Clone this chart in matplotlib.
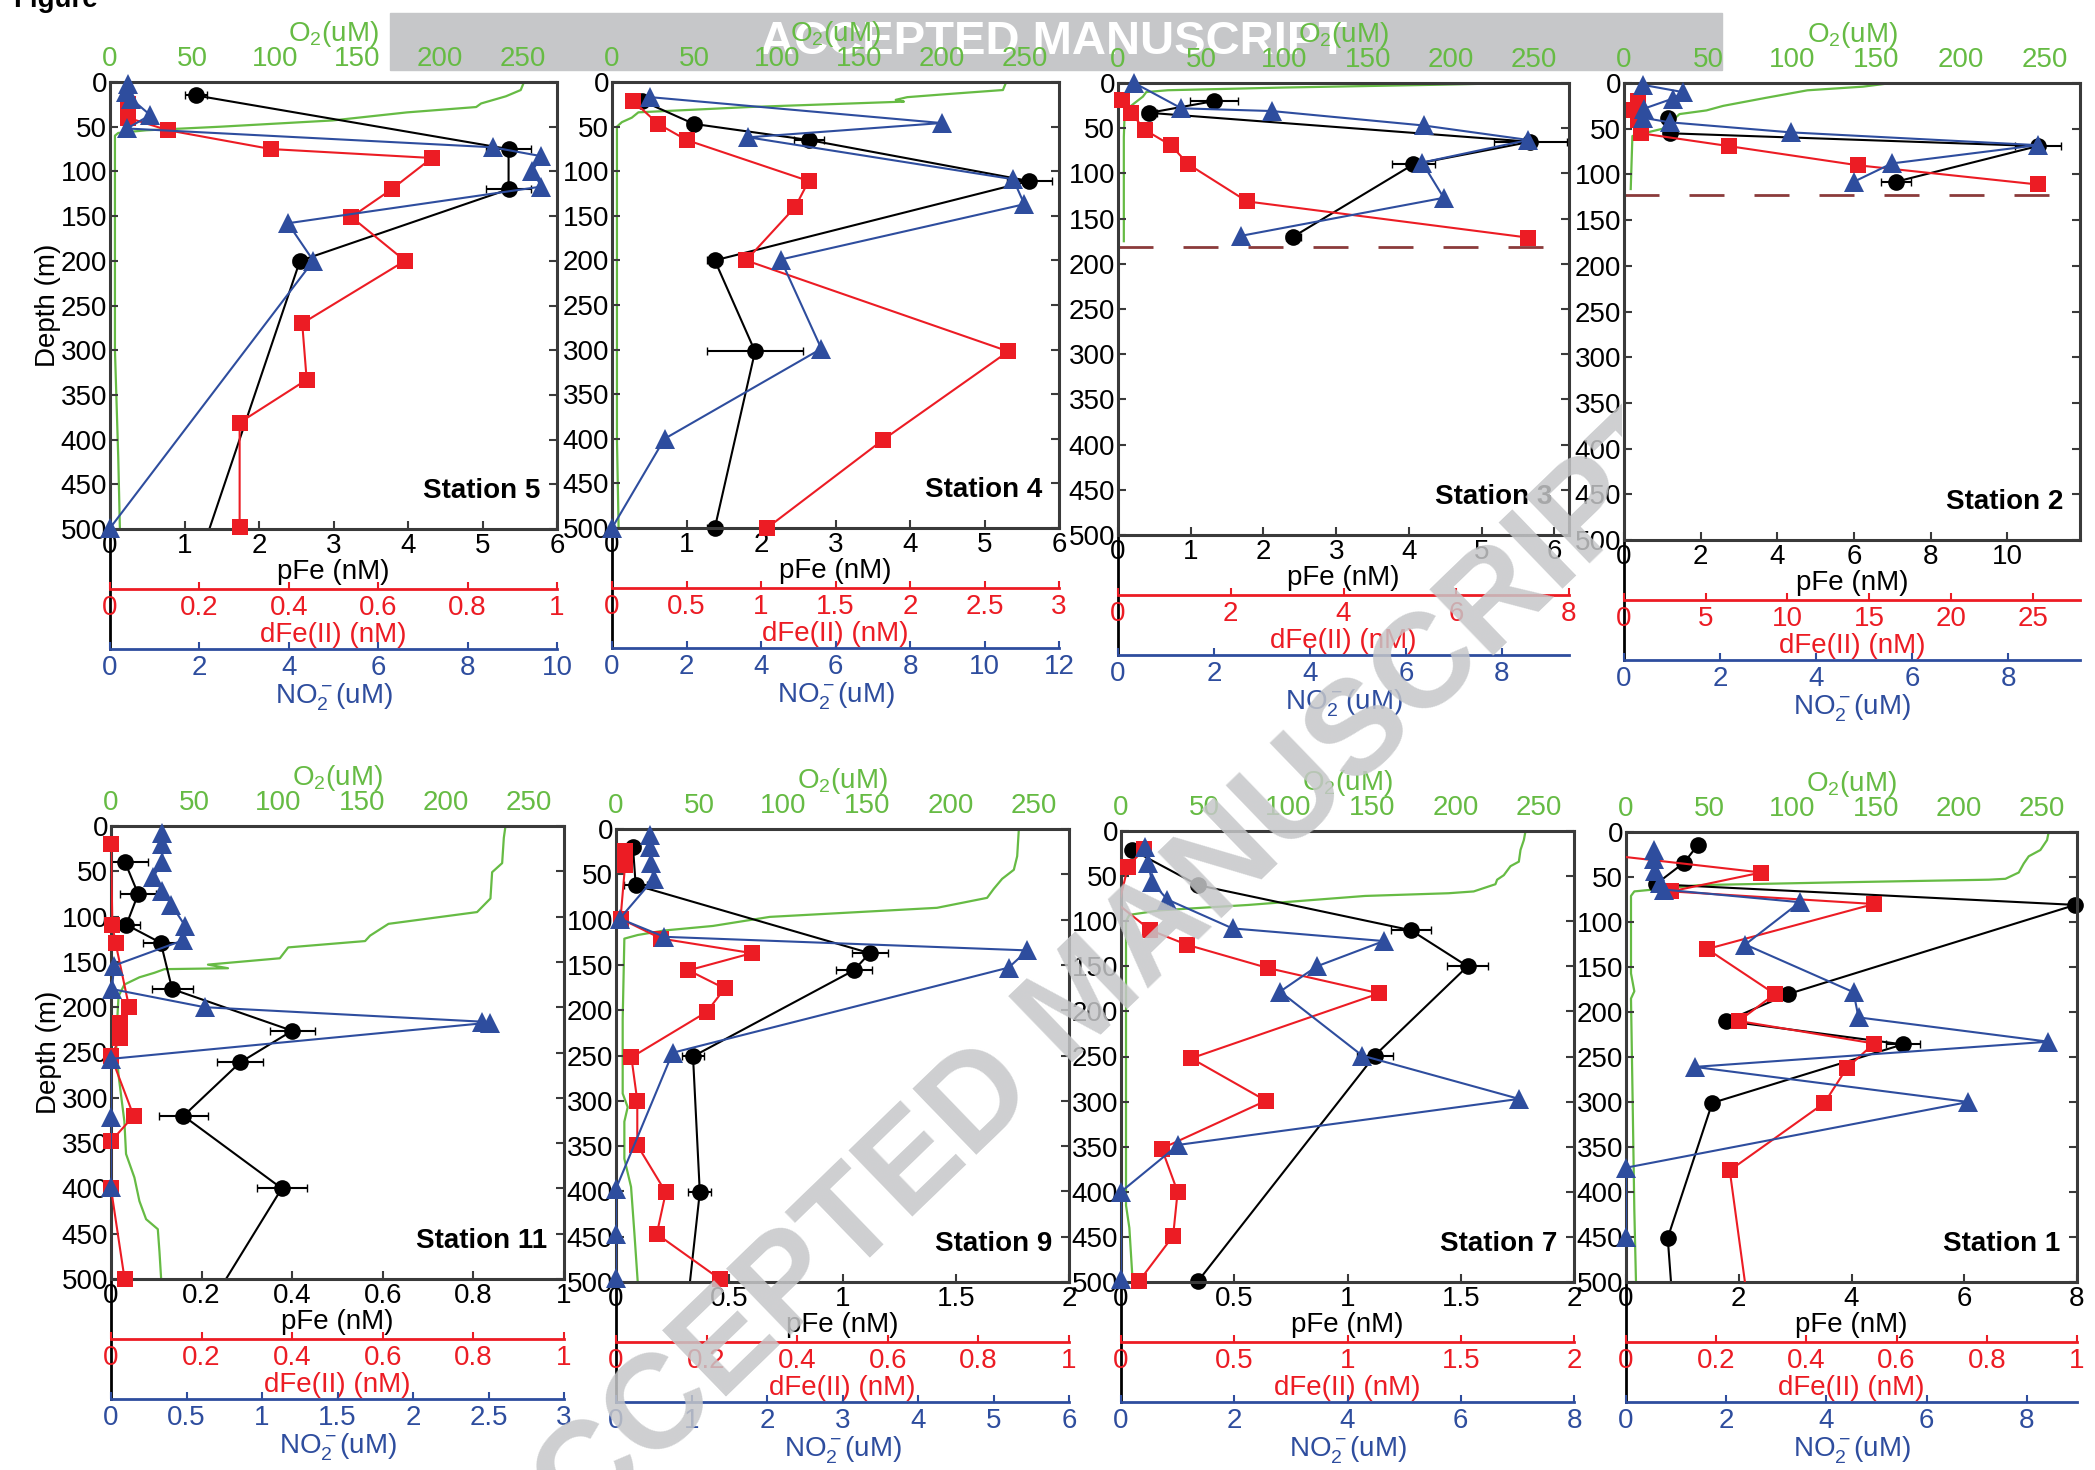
import numpy as np
import matplotlib
matplotlib.use('Agg')
import matplotlib.pyplot as plt
from matplotlib.patches import Rectangle
from matplotlib.transforms import Bbox, TransformedBbox

plt.rcParams['font.family'] = ['Liberation Sans', 'DejaVu Sans']
plt.rcParams['mathtext.fontset'] = 'custom'
plt.rcParams['mathtext.rm'] = 'Liberation Sans'
plt.rcParams['mathtext.it'] = 'Liberation Sans:italic'
plt.rcParams['mathtext.default'] = 'regular'

W, H = 2095, 1470
RED = '#ec1c24'
BLUE = '#2e4d9e'
GREEN = '#66bb44'
SPINE = '#3a3a3a'
DASH = '#8b3b3b'

DEPTH_TICKS = [0, 50, 100, 150, 200, 250, 300, 350, 400, 450, 500]
O2_TICKS = [0, 50, 100, 150, 200, 250]

# ---- Station 5 ----
st5_fe_depth = [15, 75, 120, 200, 560]
st5_fe = [1.15, 5.35, 5.35, 2.55, 1.09]
st5_fe_err = [0.15, 0.3, 0.3, 0.1, 0]
st5_dfe_depth = [25, 40, 54, 75, 85, 120, 151, 200, 270, 333, 381, 498]
st5_dfe = [0.04, 0.04, 0.13, 0.36, 0.72, 0.63, 0.54, 0.66, 0.43, 0.44, 0.29, 0.29]
st5_no2_depth = [2, 11, 19, 37, 52, 73, 83, 99, 117, 158, 200, 499]
st5_no2 = [0.4, 0.35, 0.48, 0.9, 0.38, 8.56, 9.65, 9.45, 9.65, 3.98, 4.55, 0.0]
st5_o2_depth = [0, 9, 16, 24, 28, 34, 43, 50, 54, 57, 60, 150, 300, 420, 500]
st5_o2 = [251, 249, 240, 225, 222, 180, 135, 67, 22, 5, 3, 3, 3, 5, 6]

# ---- Station 4 ----
st4_fe_depth = [21, 47, 65, 111, 200, 302, 500]
st4_fe = [0.4, 1.1, 2.64, 5.6, 1.38, 1.92, 1.38]
st4_fe_err = [0.05, 0.1, 0.2, 0.3, 0.1, 0.65, 0.1]
st4_dfe_depth = [21, 47, 65, 111, 140, 200, 302, 401, 500]
st4_dfe = [0.14, 0.31, 0.5, 1.32, 1.23, 0.9, 2.66, 1.82, 1.04]
st4_no2_depth = [17, 46, 62, 109, 137, 199, 299, 400, 500]
st4_no2 = [1.03, 8.85, 3.66, 10.77, 11.07, 4.53, 5.62, 1.41, 0.0]
st4_o2_depth = [0, 9, 14, 17, 20, 22, 28, 34, 40, 45, 50, 200, 400, 500]
st4_o2 = [239, 237, 200, 179, 172, 177, 84, 16, 12, 6, 3, 3, 3, 4]

# ---- Station 3 ----
st3_fe_depth = [20, 33, 65, 90, 170]
st3_fe = [1.32, 0.43, 5.67, 4.06, 2.41]
st3_fe_err = [0.33, 0.1, 0.5, 0.3, 0.1]
st3_dfe_depth = [19, 33, 52, 69, 90, 131, 171]
st3_dfe = [0.07, 0.23, 0.48, 0.94, 1.25, 2.29, 7.27]
st3_no2_depth = [0, 28, 31, 47, 63, 88, 127, 169]
st3_no2 = [0.34, 1.32, 3.2, 6.37, 8.55, 6.34, 6.79, 2.57]
st3_o2_depth = [0, 2, 5, 8, 10, 15, 25, 33, 60, 175]
st3_o2 = [241, 190, 100, 30, 17, 15, 8, 4, 3.5, 3.5]
st3_boundary = 181

# ---- Station 2 ----
st2_fe_depth = [38, 55, 69, 108]
st2_fe = [1.15, 1.19, 10.8, 7.1]
st2_fe_err = [0.1, 0.1, 0.6, 0.4]
st2_dfe_depth = [20, 30, 40, 55, 69, 90, 111]
st2_dfe = [0.83, 0.6, 0.83, 1.03, 6.4, 14.3, 25.3]
st2_no2_depth = [2, 10, 17, 28, 38, 43, 54, 68, 88, 108]
st2_no2 = [0.39, 1.23, 1.02, 0.42, 0.39, 0.95, 3.47, 8.62, 5.58, 4.79]
st2_o2_depth = [0, 4, 8, 16, 25, 30, 34, 44, 50, 58, 116]
st2_o2 = [159, 142, 109, 85, 59, 49, 33, 27, 23, 5, 4]
st2_boundary = 122

# ---- Station 11 ----
st11_fe_depth = [40, 75, 109, 129, 180, 226, 261, 320, 400, 560]
st11_fe = [0.031, 0.06, 0.034, 0.11, 0.135, 0.4, 0.285, 0.16, 0.377, 0.18]
st11_fe_err = [0.05, 0.04, 0.03, 0.04, 0.045, 0.05, 0.05, 0.055, 0.055, 0]
st11_dfe_depth = [20, 109, 129, 200, 217, 234, 254, 320, 348, 400, 500]
st11_dfe = [0.0, 0.003, 0.01, 0.04, 0.02, 0.02, 0.0, 0.05, 0.0, 0.0, 0.03]
st11_no2_depth = [8, 20, 40, 56, 72, 87, 110, 126, 154, 180, 200, 216, 217, 257, 321, 398]
st11_no2 = [0.34, 0.34, 0.34, 0.28, 0.34, 0.4, 0.49, 0.48, 0.02, 0.007, 0.62, 2.46, 2.51, 0.0, 0.0, 0.0]
st11_o2_depth = [0, 13, 41, 51, 80, 95, 108, 121, 127, 134, 146, 153, 157, 158, 162, 167, 175,
                 188, 239, 275, 326, 362, 388, 414, 434, 445, 470, 500]
st11_o2 = [236, 235, 234, 228, 227, 219, 166, 155, 152, 106, 101, 58, 70, 32, 26, 17, 8,
           4.5, 3, 4.5, 8, 9, 14, 17, 21, 28, 29, 30]

# ---- Station 9 ----
st9_fe_depth = [20, 62, 137, 156, 251, 401, 560]
st9_fe = [0.075, 0.087, 1.12, 1.05, 0.34, 0.37, 0.30]
st9_fe_err = [0.03, 0.05, 0.08, 0.08, 0.05, 0.05, 0]
st9_dfe_depth = [24, 40, 99, 121, 137, 156, 176, 202, 252, 300, 349, 401, 447, 497]
st9_dfe = [0.02, 0.02, 0.01, 0.1, 0.3, 0.16, 0.24, 0.2, 0.034, 0.047, 0.047, 0.11, 0.09, 0.23]
st9_no2_depth = [7, 20, 38, 55, 99, 119, 134, 153, 247, 397, 447, 496]
st9_no2 = [0.45, 0.45, 0.46, 0.5, 0.05, 0.64, 5.45, 5.2, 0.75, 0.0, 0.0, 0.0]
st9_o2_depth = [0, 30, 45, 55, 66, 76, 87, 97, 107, 112, 117, 121, 210, 292, 307, 323, 364, 395, 446, 500]
st9_o2 = [241, 240, 238, 231, 226, 222, 192, 92, 58, 29, 13, 5, 4, 4, 7, 5, 5, 9, 11, 13]

# ---- Station 7 ----
st7_fe_depth = [21, 60, 110, 150, 249, 499]
st7_fe = [0.05, 0.34, 1.28, 1.53, 1.12, 0.34]
st7_fe_err = [0.02, 0.03, 0.09, 0.09, 0.08, 0.02]
st7_dfe_depth = [20, 40, 82, 110, 126, 152, 180, 252, 299, 352, 400, 449, 499]
st7_dfe = [0.1, 0.03, -0.01, 0.13, 0.29, 0.65, 1.14, 0.31, 0.64, 0.18, 0.25, 0.23, 0.08]
st7_no2_depth = [18, 36, 57, 76, 108, 122, 150, 178, 249, 297, 348, 400, 497]
st7_no2 = [0.42, 0.48, 0.55, 0.82, 1.97, 4.64, 3.46, 2.81, 4.26, 7.03, 1.01, 0.0, 0.0]
st7_o2_depth = [0, 10, 21, 34, 39, 49, 54, 59, 67, 69, 72, 82, 88, 93, 100, 415, 440, 500]
st7_o2 = [242, 241, 239, 238, 233, 229, 225, 224, 211, 196, 146, 76, 23, 5, 3, 3, 5, 7]

# ---- Station 1 ----
st1_fe_depth = [14, 34, 58, 81, 180, 210, 236, 301, 451, 560]
st1_fe = [1.28, 1.03, 0.53, 7.97, 2.88, 1.78, 4.91, 1.53, 0.74, 0.87]
st1_fe_err = [0.1, 0.1, 0.1, 0.1, 0.1, 0.1, 0.3, 0.1, 0.1, 0]
st1_dfe_depth = [25, 45, 66, 80, 130, 180, 210, 235, 262, 301, 376, 560]
st1_dfe = [-0.05, 0.3, 0.1, 0.55, 0.18, 0.33, 0.25, 0.55, 0.49, 0.44, 0.23, 0.28]
st1_no2_depth = [20, 30, 43, 57, 64, 78, 125, 178, 206, 233, 261, 300, 373, 450]
st1_no2 = [0.56, 0.56, 0.58, 0.68, 0.76, 3.47, 2.38, 4.54, 4.64, 8.43, 1.37, 6.83, 0.0, 0.0]
st1_o2_depth = [0, 9, 20, 27, 35, 45, 52, 53, 56, 59, 66, 71, 157, 177, 185, 300, 420, 500]
st1_o2 = [254, 253, 249, 242, 239, 236, 228, 218, 126, 44, 5, 3, 3, 5, 3, 4, 5, 6]

# axis ranges and ticks per station
names = ['Station 5', 'Station 4', 'Station 3', 'Station 2',
         'Station 11', 'Station 9', 'Station 7', 'Station 1']
fe_max = [6, 6, 6.2, 11.9, 1, 2, 2, 8]
fe_ticks = [[0, 1, 2, 3, 4, 5, 6], [0, 1, 2, 3, 4, 5, 6], [0, 1, 2, 3, 4, 5, 6],
            [0, 2, 4, 6, 8, 10], [0, 0.2, 0.4, 0.6, 0.8, 1], [0, 0.5, 1, 1.5, 2],
            [0, 0.5, 1, 1.5, 2], [0, 2, 4, 6, 8]]
dfe_max = [1, 3, 8, 27.9, 1, 1, 2, 1]
dfe_ticks = [[0, 0.2, 0.4, 0.6, 0.8, 1], [0, 0.5, 1, 1.5, 2, 2.5, 3], [0, 2, 4, 6, 8],
             [0, 5, 10, 15, 20, 25], [0, 0.2, 0.4, 0.6, 0.8, 1], [0, 0.2, 0.4, 0.6, 0.8, 1],
             [0, 0.5, 1, 1.5, 2], [0, 0.2, 0.4, 0.6, 0.8, 1]]
no2_max = [10, 12, 9.4, 9.5, 3, 6, 8, 9]
no2_ticks = [[0, 2, 4, 6, 8, 10], [0, 2, 4, 6, 8, 10, 12], [0, 2, 4, 6, 8], [0, 2, 4, 6, 8],
             [0, 0.5, 1, 1.5, 2, 2.5, 3], [0, 1, 2, 3, 4, 5, 6], [0, 2, 4, 6, 8], [0, 2, 4, 6, 8]]
o2_max = 271

# panel boxes in pixels: left, right, top, bottom
BOXES = [(110, 557, 82, 529), (612, 1059, 82, 528), (1118, 1569, 83, 535), (1624, 2080, 83, 540),
         (111, 564, 826, 1279), (616, 1069, 829, 1282), (1121, 1574, 831, 1282), (1626, 2077, 832, 1282)]


def profile(ax, x, d, color, marker, ms, lw=1.5):
    '''line clipped to the axes, markers drawn whole like in the paper'''
    x = np.asarray(x, dtype=float)
    d = np.asarray(d, dtype=float)
    ax.plot(x, d, color=color, lw=lw)
    keep = (d <= 500) & (x >= 0)
    ax.plot(x[keep], d[keep], ls='none', marker=marker, ms=ms, color=color,
            markeredgewidth=0, clip_on=False)


def lower_axis(ax, color, offset_px, xmax, ticks, label):
    ax.set_xlim(0, xmax)
    ax.xaxis.tick_bottom()
    ax.xaxis.set_label_position('bottom')
    for s in ['top', 'left', 'right']:
        ax.spines[s].set_visible(False)
    ax.spines['bottom'].set_position(('outward', offset_px * 0.72))
    ax.spines['bottom'].set_color(color)
    ax.spines['bottom'].set_linewidth(2)
    ax.set_xticks(ticks)
    ax.set_xticklabels([f'{t:g}' for t in ticks])
    ax.tick_params(axis='x', direction='in', length=5, width=1.5, color=color,
                   labelcolor=color, labelsize=20, pad=4)
    ax.set_xlabel(label, color=color, fontsize=20, labelpad=1)


def draw_station(fig, box, st):
    left, right, top, bottom = box
    ax = fig.add_axes([left / W, 1 - bottom / H, (right - left) / W, (bottom - top) / H])
    ax.patch.set_visible(False)
    ax.set_zorder(1)
    ax_o2 = ax.twiny()
    ax_o2.set_zorder(0.5)
    ax_red = ax.twiny()
    ax_red.set_zorder(2)
    ax_no2 = ax.twiny()
    ax_no2.set_zorder(3)

    ax.set_ylim(500, 0)
    ax.set_xlim(0, st['fe_max'])
    ax.set_yticks(DEPTH_TICKS)
    ax.set_xticks(st['fe_ticks'])
    ax.set_xticklabels([f'{t:g}' for t in st['fe_ticks']])
    ax.tick_params(axis='both', direction='in', length=6, width=1.5, color=SPINE, labelsize=20)
    ax.tick_params(axis='y', right=True, pad=2)
    ax.tick_params(axis='x', pad=3)
    ax.set_xlabel('pFe (nM)', fontsize=20, labelpad=0)
    for s in ax.spines.values():
        s.set_color(SPINE)
        s.set_linewidth(2.2)
    if st['ylabel']:
        ax.set_ylabel('Depth (m)', fontsize=20, labelpad=0)

    # black line from the frame down to the nitrite axis
    ax.plot([0, 0], [0, -120 / (bottom - top)], transform=ax.transAxes,
            color='k', lw=2, clip_on=False)

    if st['boundary'] is not None:
        ax.axhline(st['boundary'], color=DASH, lw=2, dashes=(12.6, 10.8))

    # O2 (top axis)
    ax_o2.set_xlim(0, o2_max)
    ax_o2.set_xticks(O2_TICKS)
    ax_o2.tick_params(axis='x', length=0, pad=7, labelsize=20, labelcolor=GREEN)
    ax_o2.set_xlabel(r'$\mathrm{O}_2$(uM)', color=GREEN, fontsize=20, labelpad=4)
    for s in ax_o2.spines.values():
        s.set_visible(False)
    ax_o2.plot(st['o2'], st['o2_depth'], color=GREEN, lw=1.6)

    # pFe
    ax.errorbar(st['fe'], st['fe_depth'], xerr=st['fe_err'], fmt='none',
                ecolor='k', elinewidth=1.5, capsize=3)
    profile(ax, st['fe'], st['fe_depth'], 'k', 'o', 12)

    # dFe(II)
    lower_axis(ax_red, RED, 60, st['dfe_max'], st['dfe_ticks'], 'dFe(II) (nM)')
    profile(ax_red, st['dfe'], st['dfe_depth'], RED, 's', 11)

    # nitrite
    lower_axis(ax_no2, BLUE, 120, st['no2_max'], st['no2_ticks'], r'$\mathrm{NO}_2^-$(uM)')
    profile(ax_no2, st['no2'], st['no2_depth'], BLUE, '^', 15)

    # station name sits about 38 px above the bottom frame
    ax.text(0.963, 38 / (bottom - top), st['name'], transform=ax.transAxes, ha='right',
            va='center', fontsize=20, fontweight='bold', zorder=5)


def main():
    fe_depths = [st5_fe_depth, st4_fe_depth, st3_fe_depth, st2_fe_depth,
                 st11_fe_depth, st9_fe_depth, st7_fe_depth, st1_fe_depth]
    fes = [st5_fe, st4_fe, st3_fe, st2_fe, st11_fe, st9_fe, st7_fe, st1_fe]
    fe_errs = [st5_fe_err, st4_fe_err, st3_fe_err, st2_fe_err,
               st11_fe_err, st9_fe_err, st7_fe_err, st1_fe_err]
    dfe_depths = [st5_dfe_depth, st4_dfe_depth, st3_dfe_depth, st2_dfe_depth,
                  st11_dfe_depth, st9_dfe_depth, st7_dfe_depth, st1_dfe_depth]
    dfes = [st5_dfe, st4_dfe, st3_dfe, st2_dfe, st11_dfe, st9_dfe, st7_dfe, st1_dfe]
    no2_depths = [st5_no2_depth, st4_no2_depth, st3_no2_depth, st2_no2_depth,
                  st11_no2_depth, st9_no2_depth, st7_no2_depth, st1_no2_depth]
    no2s = [st5_no2, st4_no2, st3_no2, st2_no2, st11_no2, st9_no2, st7_no2, st1_no2]
    o2_depths = [st5_o2_depth, st4_o2_depth, st3_o2_depth, st2_o2_depth,
                 st11_o2_depth, st9_o2_depth, st7_o2_depth, st1_o2_depth]
    o2s = [st5_o2, st4_o2, st3_o2, st2_o2, st11_o2, st9_o2, st7_o2, st1_o2]
    boundaries = [None, None, st3_boundary, st2_boundary, None, None, None, None]

    fig = plt.figure(figsize=(W / 100, H / 100), dpi=100)

    # grey banner at the top
    fig.patches.append(Rectangle((390 / W, 1 - 70 / H), (1722 - 390) / W, 57 / H,
                                 transform=fig.transFigure, color='#c6c7c9', zorder=-2))
    fig.text(1054 / W, 1 - 42 / H, 'ACCEPTED MANUSCRIPT', color='white', fontsize=34,
             fontweight='bold', ha='center', va='center', zorder=-1)
    fig.text(13 / W, 1 - 7 / H, 'Figure', fontsize=20, fontweight='bold', va='baseline')

    for i in range(8):
        st = {
            'name': names[i], 'ylabel': i % 4 == 0, 'boundary': boundaries[i],
            'fe_max': fe_max[i], 'fe_ticks': fe_ticks[i],
            'dfe_max': dfe_max[i], 'dfe_ticks': dfe_ticks[i],
            'no2_max': no2_max[i], 'no2_ticks': no2_ticks[i],
            'fe_depth': fe_depths[i], 'fe': fes[i], 'fe_err': fe_errs[i],
            'dfe_depth': dfe_depths[i], 'dfe': dfes[i],
            'no2_depth': no2_depths[i], 'no2': no2s[i],
            'o2_depth': o2_depths[i], 'o2': o2s[i],
        }
        draw_station(fig, BOXES[i], st)

    # diagonal watermark, hidden behind the Station 2 panel like in the scan
    wm = fig.text(1085 / W, 1 - 1002 / H, 'ACCEPTED MANUSCRIPT', rotation=44,
                  rotation_mode='anchor', ha='center', va='center', fontsize=96,
                  fontweight='bold', color='#c6c7c9', alpha=0.85, zorder=10)
    wm.set_clip_box(TransformedBbox(Bbox([[0, 0], [1622 / W, 1]]), fig.transFigure))
    wm.set_clip_on(True)

    fig.savefig('out.png', dpi=100)


if __name__ == '__main__':
    main()
